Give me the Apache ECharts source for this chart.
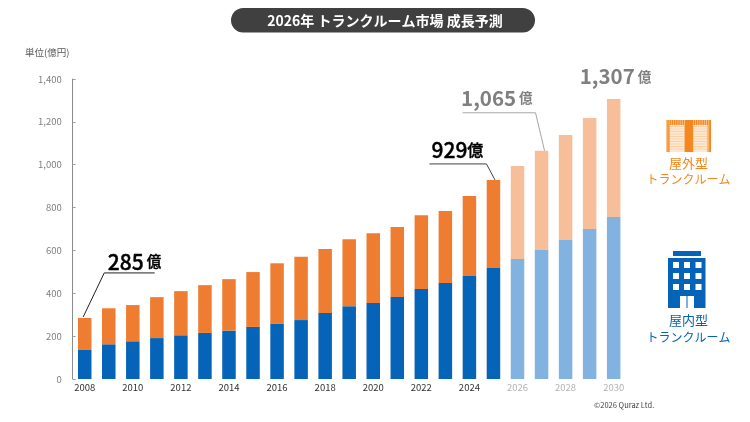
<!DOCTYPE html>
<html lang="ja">
<head>
<meta charset="utf-8">
<title>2026年 トランクルーム市場 成長予測</title>
<script src="https://cdn.jsdelivr.net/npm/echarts@6/dist/echarts.min.js"></script>
<style>
html,body{margin:0;padding:0;background:#fff}
#chart{width:750px;height:422px}
</style>
</head>
<body>
<div id="chart"></div>
<script>
// 市場規模（億円）: 屋内型 + 屋外型
const years = ['2008','2009','2010','2011','2012','2013','2014','2015','2016','2017','2018','2019','2020','2021','2022','2023','2024','2025','2026','2027','2028','2029','2030'];
const indoor = [138,162,176,191,204,215,226,243,257,275,308,339,355,383,420,448,481,518,560,602,649,700,756];
const outdoor = [147,168,169,191,206,223,240,256,283,296,299,313,325,326,344,336,373,411,434,463,490,518,551];
const firstForecastYear = '2026';
const yTicks = {min: 0, max: 1400, interval: 200};

const FONT = '"Noto Sans CJK JP","Noto Sans",sans-serif';
const BLUE = '#0563B8', ORANGE = '#EE7D31';
const BLUE_PALE = '#82B2DF', ORANGE_PALE = '#F6BF9A';
const ICON_ORANGE = '#F4871E';

const isForecast = y => y >= firstForecastYear;
const barData = (values, solid, pale) => values.map((v, i) => ({
  value: v,
  itemStyle: {color: isForecast(years[i]) ? pale : solid}
}));

const chart = echarts.init(document.getElementById('chart'), null, {renderer: 'canvas'});
chart.setOption({
  animation: false,
  backgroundColor: '#fff',
  grid: {left: 72.7, right: 124.3, top: 79, bottom: 43},
  xAxis: {
    type: 'category',
    data: years,
    axisLine: {show: false},
    axisTick: {show: false},
    axisLabel: {
      interval: 1,
      margin: 1,
      fontFamily: FONT,
      fontSize: 9.5,
      lineHeight: 14,
      color: v => isForecast(v) ? '#b3b3b3' : '#333333'
    }
  },
  yAxis: {
    type: 'value',
    min: yTicks.min,
    max: yTicks.max,
    interval: yTicks.interval,
    splitLine: {show: false},
    axisLine: {show: true, lineStyle: {color: '#8c8c8c', width: 1}},
    axisTick: {show: true, inside: true, length: 3, lineStyle: {color: '#a0a0a0', width: 1}},
    axisLabel: {
      margin: 11,
      padding: [0, 0, 2, 0],
      fontFamily: FONT,
      fontSize: 9.5,
      color: '#7f7f7f',
      formatter: v => v.toLocaleString('en-US')
    }
  },
  series: [
    {name: '屋内型', type: 'bar', stack: 'total', barWidth: 13.5, data: barData(indoor, BLUE, BLUE_PALE)},
    {name: '屋外型', type: 'bar', stack: 'total', barWidth: 13.5, data: barData(outdoor, ORANGE, ORANGE_PALE)}
  ]
});

// 棒の上端ピクセル位置（注記の引き出し線の起点）
const totalOf = year => {
  const i = years.indexOf(year);
  return {total: indoor[i] + outdoor[i], pos: chart.convertToPixel({xAxisIndex: 0, yAxisIndex: 0}, [i, indoor[i] + outdoor[i]])};
};
const fmt = v => v.toLocaleString('en-US');

// 注記: dx/dy は棒の上端からの相対位置
function callout(year, o) {
  const {total, pos} = totalOf(year);
  const pts = o.line.map(([dx, dy]) => [pos[0] + dx, pos[1] + dy]);
  const items = [];
  if (pts.length) {
    items.push({type: 'polyline', silent: true, shape: {points: pts},
      style: {stroke: o.lineColor, lineWidth: 1, fill: null}});
  }
  // 中太に見せるため数字に細い縁取りを付ける
  const edge = o.edge ? {stroke: o.color, lineWidth: o.edge} : {};
  items.push({
    type: 'text', silent: true,
    x: pos[0] + o.text[0], y: pos[1] + o.text[1],
    style: {
      text: `{n|${fmt(total)}}{u|億}`,
      rich: {
        n: {fontFamily: FONT, fontSize: o.size, fontWeight: o.weight, fill: o.color, padding: [0, o.gap, 0, 0], ...edge},
        u: {fontFamily: FONT, fontSize: o.unitSize, fontWeight: o.weight, fill: o.color, ...edge}
      },
      align: 'left', verticalAlign: 'middle'
    }
  });
  return items;
}

// 屋外型アイコン（シャッター）
function shutterIcon(x, y) {
  const out = [];
  const r = (a, b, w, h, c) => out.push({type: 'rect', silent: true, shape: {x: x + a, y: y + b, width: w, height: h}, style: {fill: c}});
  r(0, 0, 44.5, 32, ICON_ORANGE);
  for (let i = 0; i < 44; i += 2.2) r(i, 0, 0.9, 32, '#FBC48E');
  r(3.5, 5, 14, 27, '#FDE9D3');
  r(27, 5, 14, 27, '#FDE9D3');
  for (let j = 6; j < 31; j += 2.5) {
    r(3.5, j, 14, 1, '#FAD0A6');
    r(27, j, 14, 1, '#FAD0A6');
  }
  r(19, 0, 7, 32, ICON_ORANGE);
  return out;
}

// 屋内型アイコン（ビル）
function buildingIcon(x, y) {
  const out = [];
  const r = (a, b, w, h, c) => out.push({type: 'rect', silent: true, shape: {x: x + a, y: y + b, width: w, height: h}, style: {fill: c}});
  r(5, 0, 28, 5, BLUE);
  r(0, 7, 37.5, 50, BLUE);
  [11, 22, 33].forEach(wy => [5, 16, 27.5].forEach(wx => r(wx, wy, 6, 6, '#fff')));
  r(12, 45, 6.5, 12, '#fff');
  r(19.5, 45, 6.5, 12, '#fff');
  return out;
}

const label = (text, cx, cy, color, size) => ({
  type: 'text', silent: true, x: cx, y: cy,
  style: {text, fontFamily: FONT, fontSize: size, fill: color, align: 'center', verticalAlign: 'middle'}
});

chart.setOption({
  graphic: {elements: [
    {type: 'rect', silent: true, shape: {x: 231, y: 8, width: 304, height: 24.5, r: 12.25}, style: {fill: '#404040'}},
    {type: 'text', silent: true, x: 385, y: 20.5,
      style: {text: '2026年 トランクルーム市場 成長予測', fontFamily: FONT, fontSize: 14, fontWeight: 700, fill: '#fff', align: 'center', verticalAlign: 'middle'}},
    {type: 'text', silent: true, x: 25, y: 52,
      style: {text: '単位(億円)', fontFamily: FONT, fontSize: 9.5, fill: '#595959', align: 'left', verticalAlign: 'middle'}},
    ...callout('2008', {line: [[-1.5, -1], [19.5, -45], [70, -45]], lineColor: '#222', text: [23, -56], size: 21, unitSize: 14.5, weight: 500, color: '#000', gap: 3, edge: 0.4}),
    ...callout('2025', {line: [[1.5, 0], [-7, -16], [-64, -16]], lineColor: '#444', text: [-62, -30], size: 21, unitSize: 16, weight: 500, color: '#000', gap: 0, edge: 0.4}),
    ...callout('2027', {line: [[3, 0], [-6, -38], [-79, -38]], lineColor: '#a6a6a6', text: [-80.5, -53], size: 20.5, unitSize: 13.5, weight: 700, color: '#7f7f7f', gap: 3}),
    ...callout('2030', {line: [], text: [-34, -22.5], size: 20.5, unitSize: 13.5, weight: 700, color: '#7f7f7f', gap: 3}),
    ...shutterIcon(666.5, 120),
    label('屋外型', 688.5, 163, ICON_ORANGE, 13),
    label('トランクルーム', 688.5, 179, ICON_ORANGE, 12),
    ...buildingIcon(668, 251),
    label('屋内型', 688.5, 320, BLUE, 13),
    label('トランクルーム', 688.5, 337, BLUE, 12),
    {type: 'text', silent: true, x: 594, y: 405,
      style: {text: '©2026 Quraz Ltd.', fontFamily: FONT, fontSize: 7.5, fill: '#444', align: 'left', verticalAlign: 'middle'}}
  ]}
});
</script>
</body>
</html>
